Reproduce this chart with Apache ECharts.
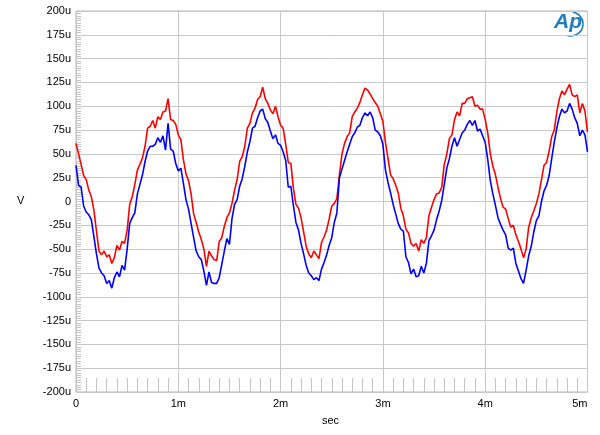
<!DOCTYPE html>
<html>
<head>
<meta charset="utf-8">
<script src="https://cdn.jsdelivr.net/npm/echarts@6/dist/echarts.min.js"></script>
<style>
html,body{margin:0;padding:0;background:#fff;}
#chart{width:600px;height:435px;}
</style>
</head>
<body>
<div id="chart"></div>
<script>
// sample spacing of the trace, in ms
const STEP_MS = 0.025;
// red trace, microvolts
const redValues = [
61,50,39,27,23,12,5,-9,-31,-52,-56,-52,-58,-56,-65,-59,-46,-51,-42,-44,
-30,-3,5,18,33,39,46,58,77,79,85,77,89,86,94,95,108,86,85,81,70,
65,44,29,22,8,-13,-22,-32,-40,-50,-68,-52,-57,-61,-62,-42,-38,-26,-17,-12,
-2,12,23,42,47,58,77,82,93,98,107,110,120,108,103,96,92,100,89,80,
77,60,41,40,14,-3,-7,-17,-32,-47,-55,-59,-52,-56,-60,-43,-37,-30,-18,-5,
-2,3,28,50,61,68,72,89,94,98,104,112,119,117,113,108,104,100,92,84,
62,45,28,24,17,9,-7,-15,-29,-33,-44,-47,-44,-52,-40,-44,-38,-15,-6,2,
8,9,15,39,50,66,70,86,94,90,103,103,108,109,110,100,101,97,97,86,
72,50,37,28,15,3,-6,-8,-18,-27,-25,-35,-42,-50,-59,-50,-27,-17,-10,-2,
8,23,38,41,53,68,75,94,108,116,112,118,123,112,110,112,93,103,95,73
];
// blue trace, microvolts
const blueValues = [
38,17,15,-5,-11,-14,-19,-37,-55,-70,-75,-78,-86,-83,-91,-80,-74,-79,-67,-72,
-50,-23,-17,-12,8,18,28,42,53,58,58,60,67,62,69,54,82,55,53,40,32,
35,19,2,-8,-23,-38,-52,-58,-61,-73,-88,-74,-85,-86,-86,-80,-66,-52,-39,-45,
-18,-3,2,16,24,37,52,63,77,79,88,95,97,87,83,74,66,70,61,59,
52,43,15,16,-4,-22,-30,-44,-55,-67,-75,-78,-82,-80,-83,-71,-64,-56,-46,-38,
-22,-12,25,34,43,52,60,68,72,78,80,88,93,90,94,88,75,73,69,60,
33,20,9,-3,-13,-23,-29,-31,-58,-64,-76,-71,-79,-78,-68,-75,-65,-41,-36,-30,
-19,-10,1,18,35,45,58,67,58,65,72,75,81,85,80,85,74,76,69,62,
44,22,8,-4,-17,-24,-30,-35,-49,-51,-49,-65,-73,-81,-86,-72,-57,-47,-32,-20,
-15,0,11,17,27,45,62,77,89,97,93,95,103,97,88,82,69,75,70,52
];
const xTickLabels = ['0','1m','2m','3m','4m','5m'];
const yTickLabels = ['-200u','-175u','-150u','-125u','-100u','-75u','-50u','-25u','0',
  '25u','50u','75u','100u','125u','150u','175u','200u'];
const xAxisTitle = 'sec';
const yAxisTitle = 'V';

const redData = redValues.map((v, i) => [i * STEP_MS, v]);
const blueData = blueValues.map((v, i) => [i * STEP_MS, v]);

const FONT = '"Liberation Sans", Arial, sans-serif';
const chart = echarts.init(document.getElementById('chart'), null, {renderer: 'canvas'});
chart.setOption({
  animation: false,
  backgroundColor: '#ffffff',
  grid: {left: 76, top: 11, width: 511.5, height: 381, show: true, borderColor: '#b4b4b4', borderWidth: 1},
  xAxis: {
    type: 'value', min: 0, max: 5, interval: 1, position: 'bottom',
    axisLine: {show: false, onZero: false},
    axisTick: {show: false, inside: true},
    minorTick: {show: true, splitNumber: 10, length: 14, lineStyle: {color: '#c4c4c4', width: 1}},
    splitLine: {show: true, lineStyle: {color: '#c8c8c8', width: 1}},
    axisLabel: {
      color: '#000', fontSize: 11, fontFamily: FONT, margin: 6,
      alignMaxLabel: 'right',
      formatter: (v) => xTickLabels[Math.round(v)]
    }
  },
  yAxis: {
    type: 'value', min: -200, max: 200, interval: 25, position: 'left',
    axisLine: {show: false, onZero: false},
    axisTick: {show: false, inside: true},
    minorTick: {show: true, splitNumber: 10, length: 5, lineStyle: {color: '#c4c4c4', width: 1}},
    splitLine: {show: true, lineStyle: {color: '#c8c8c8', width: 1}},
    axisLabel: {
      color: '#000', fontSize: 11, fontFamily: FONT, margin: 5,
      formatter: (v) => yTickLabels[Math.round((v + 200) / 25)]
    }
  },
  series: [
    {type: 'line', data: redData, showSymbol: false, smooth: false,
     lineStyle: {color: '#ff0000', width: 1.6}, itemStyle: {color: '#ff0000'}},
    {type: 'line', data: blueData, showSymbol: false, smooth: false,
     lineStyle: {color: '#0000ff', width: 1.6}, itemStyle: {color: '#0000ff'}}
  ],
  graphic: [
    {type: 'text', left: 17, top: 195, style: {text: yAxisTitle, fill: '#000', font: '11px ' + FONT}},
    {type: 'text', left: 322, top: 415, style: {text: xAxisTitle, fill: '#000', font: '11px ' + FONT}},
    {type: 'text', left: 554, top: 12, style: {text: 'Ap', fill: '#1f7cbf', font: 'italic bold 21px ' + FONT}},
    {type: 'arc', shape: {cx: 571, cy: 24, r: 12, startAngle: -Math.PI * 0.45, endAngle: Math.PI * 0.6, clockwise: true},
     style: {stroke: '#1f7cbf', lineWidth: 1.6, fill: null}}
  ]
});
</script>
</body>
</html>
